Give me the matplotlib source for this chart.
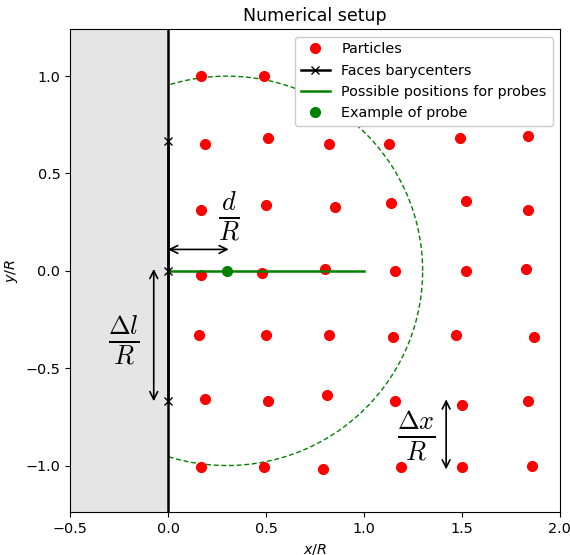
import numpy as np
import matplotlib.pyplot as plt

plt.rcParams["font.size"] = 10.4

# particles positions (x/R, y/R), read row by row
part_x = [0.17, 0.49,
          0.19, 0.51, 0.82, 1.13, 1.49, 1.84,
          0.17, 0.50, 0.85, 1.14, 1.52, 1.84,
          0.17, 0.48, 0.80, 1.16, 1.52, 1.83,
          0.16, 0.50, 0.82, 1.15, 1.47, 1.87,
          0.19, 0.51, 0.81, 1.16, 1.50, 1.84,
          0.17, 0.49, 0.79, 1.19, 1.50, 1.86]
part_y = [1.00, 1.00,
          0.65, 0.68, 0.65, 0.65, 0.68, 0.69,
          0.31, 0.34, 0.33, 0.35, 0.36, 0.31,
          -0.02, -0.01, 0.01, 0.00, 0.00, 0.01,
          -0.33, -0.33, -0.33, -0.34, -0.33, -0.34,
          -0.66, -0.67, -0.64, -0.67, -0.69, -0.67,
          -1.01, -1.01, -1.02, -1.01, -1.01, -1.00]

# faces barycenters on the wall
face_x = [0.0, 0.0, 0.0]
face_y = [2 / 3, 0.0, -2 / 3]

# probes
probe_line_x = [0.0, 1.0]
probe_line_y = [0.0, 0.0]
probe_x, probe_y = 0.3, 0.0
radius = 1.0

fig = plt.figure(figsize=(5.7, 5.55), dpi=100)
ax = fig.add_axes([0.123, 0.077, 0.859, 0.870])

ax.axvspan(-0.5, 0.0, color="#e5e5e5", zorder=0)
ax.axvline(0.0, color="k", lw=1.8, zorder=3)

th = np.linspace(0, 2 * np.pi, 800)
cx = probe_x + radius * np.cos(th)
cy = probe_y + radius * np.sin(th)
cy = np.where(cx >= 0, cy, np.nan)
ax.plot(cx, cy, "g--", lw=1.0, dashes=(3.5, 2))

ax.plot(part_x, part_y, "o", color="red", ms=7, ls="none", label="Particles")
ax.plot(face_x, face_y, "k-x", lw=1.8, ms=6, label="Faces barycenters", zorder=4)
ax.plot(probe_line_x, probe_line_y, color="green", lw=1.8,
        label="Possible positions for probes", zorder=3)
ax.plot(probe_x, probe_y, "o", color="green", ms=7, ls="none",
        label="Example of probe", zorder=5)

# annotations
arr = dict(arrowstyle="<->", color="k", lw=1.2, shrinkA=0, shrinkB=0,
           mutation_scale=14)
ax.annotate("", xy=(0.0, 0.11), xytext=(0.31, 0.11), arrowprops=arr)
ax.text(0.31, 0.28, r"$\frac{d}{R}$", fontsize=27, ha="center", va="center",
        math_fontfamily="cm")
ax.annotate("", xy=(-0.073, 0.01), xytext=(-0.073, -0.67), arrowprops=arr)
ax.text(-0.225, -0.36, r"$\frac{\Delta l}{R}$", fontsize=27, ha="center",
        va="center", math_fontfamily="cm")
ax.annotate("", xy=(1.42, -0.66), xytext=(1.42, -1.02), arrowprops=arr)
ax.text(1.27, -0.85, r"$\frac{\Delta x}{R}$", fontsize=27, ha="center",
        va="center", math_fontfamily="cm")

ax.set_xlim(-0.5, 2.0)
ax.set_ylim(-1.24, 1.24)
ax.set_xticks([-0.5, 0.0, 0.5, 1.0, 1.5, 2.0])
ax.set_yticks([-1.0, -0.5, 0.0, 0.5, 1.0])
ax.set_xlabel("$x/R$")
ax.set_ylabel("$y/R$")
ax.set_title("Numerical setup")
ax.legend(loc="upper right", framealpha=1.0)

fig.savefig("out.png")
